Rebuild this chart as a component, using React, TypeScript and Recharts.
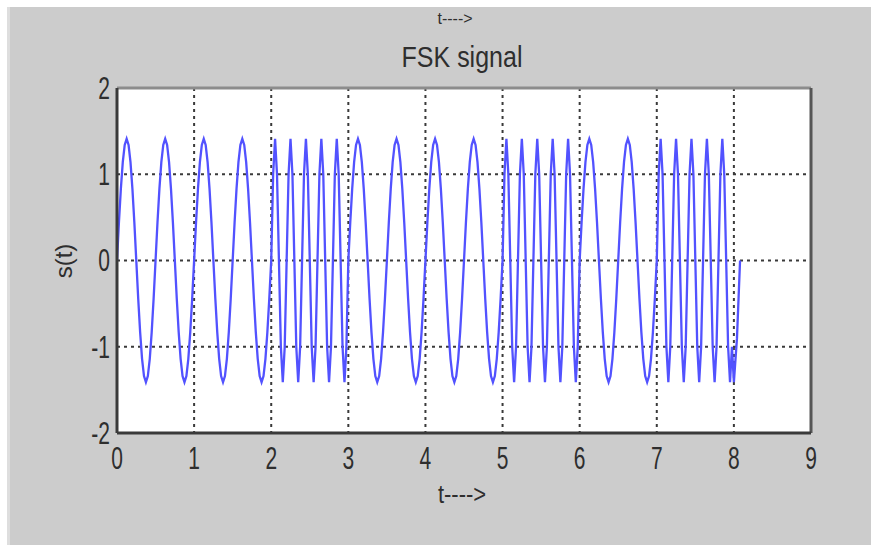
import React from "react";
import { LineChart, Line, XAxis, YAxis, CartesianGrid, ReferenceLine } from "recharts";

// Bit sequence shown (0 = low tone, 1 = high tone)
const BITS = [0, 0, 1, 0, 0, 1, 0, 1];
// One period of the low tone (2 cycles per bit), samples
const LOW_CYCLE = [0, 0.44, 0.83, 1.14, 1.34, 1.41, 1.34, 1.14, 0.83, 0.44, 0, -0.44, -0.83, -1.14, -1.34, -1.41, -1.34, -1.14, -0.83, -0.44];
// One period of the high tone (5 cycles per bit)
const HIGH_CYCLE = [0, 1.0, 1.41, 1.0, 0, -1.0, -1.41, -1.0];
const SAMPLES_PER_BIT = 40;
const SAMPLE_STEP = 0.025;
// Final tail after the last bit
const TAIL_T = [8.0, 8.04, 8.08];
const TAIL_V = [-1.41, -0.9, 0];

const X_TICKS = [0, 1, 2, 3, 4, 5, 6, 7, 8, 9];
const Y_TICKS = [-2, -1, 0, 1, 2];
const TITLE = "FSK signal";
const X_LABEL = "t---->";
const Y_LABEL = "s(t)";

const data: { t: number; v: number }[] = [];
BITS.forEach((b, i) => {
  const cycle = b ? HIGH_CYCLE : LOW_CYCLE;
  for (let k = 0; k < SAMPLES_PER_BIT; k++) {
    data.push({ t: i + k * SAMPLE_STEP, v: cycle[k % cycle.length] });
  }
});
TAIL_T.forEach((t, i) => data.push({ t, v: TAIL_V[i] }));

const FONT = "'Liberation Sans Narrow', 'Arial Narrow', 'Liberation Sans', Arial, sans-serif";
const TEXT_COLOR = "#2e2e2e";

function Stretch({ cx, cy, size, sy, anchor, children, rotate }: any) {
  return (
    <g transform={`translate(${cx},${cy})${rotate ? ` rotate(${rotate})` : ""} scale(1,${sy})`}>
      <text x={0} y={0.358 * size} textAnchor={anchor} fontSize={size} fontFamily={FONT} fill={TEXT_COLOR}>
        {children}
      </text>
    </g>
  );
}

const XTick = (props: any) => {
  const { x, y, payload } = props;
  return <Stretch cx={x} cy={y + 17} size={21} sy={1.45} anchor="middle">{payload.value}</Stretch>;
};
const YTick = (props: any) => {
  const { x, y, payload } = props;
  return <Stretch cx={x + 1} cy={y} size={21} sy={1.45} anchor="end">{payload.value}</Stretch>;
};

const W = 864;
const H = 538;

export default function App() {
  return (
    <div style={{ position: "absolute", left: 0, top: 0, width: 871, height: 545, background: "#fff", overflow: "hidden" }}>
      <div style={{ position: "absolute", left: 7, top: 7, width: W, height: H, background: "#cccccc", overflow: "hidden", boxShadow: "inset 3px 0 0 #dedede" }}>
        <LineChart width={W} height={H} data={data} margin={{ top: 81, right: 60, bottom: 82, left: 50 }}>
          <CartesianGrid stroke="#3a3a3a" strokeDasharray="3 4" strokeWidth={2} fill="#ffffff" />
          <XAxis
            type="number"
            dataKey="t"
            domain={[0, 9]}
            ticks={X_TICKS}
            interval={0}
            allowDataOverflow
            tickLine={false}
            axisLine={{ stroke: "#3a3a3a", strokeWidth: 3 }}
            tick={<XTick />}
            height={30}
          />
          <YAxis
            type="number"
            domain={[-2, 2]}
            ticks={Y_TICKS}
            interval={0}
            allowDataOverflow
            tickLine={false}
            axisLine={{ stroke: "#3a3a3a", strokeWidth: 3 }}
            tick={<YTick />}
            width={60}
          />
          <ReferenceLine y={2} stroke="#8c8c8c" strokeWidth={3} />
          <ReferenceLine x={9} stroke="#555555" strokeWidth={3} />
          <Line
            type="linear"
            dataKey="v"
            stroke="#5252ff"
            strokeWidth={2.3}
            dot={false}
            isAnimationActive={false}
          />
        </LineChart>
        <svg width={W} height={H} style={{ position: "absolute", left: 0, top: 0, pointerEvents: "none" }}>
          <Stretch cx={448} cy={11} size={16} sy={1.0} anchor="middle">{X_LABEL}</Stretch>
          <Stretch cx={455} cy={50} size={25} sy={1.15} anchor="middle">{TITLE}</Stretch>
          <Stretch cx={455} cy={487} size={22} sy={1.2} anchor="middle">{X_LABEL}</Stretch>
          <Stretch cx={56} cy={254} size={24} sy={1.0} anchor="middle" rotate={-90}>{Y_LABEL}</Stretch>
        </svg>
      </div>
    </div>
  );
}
